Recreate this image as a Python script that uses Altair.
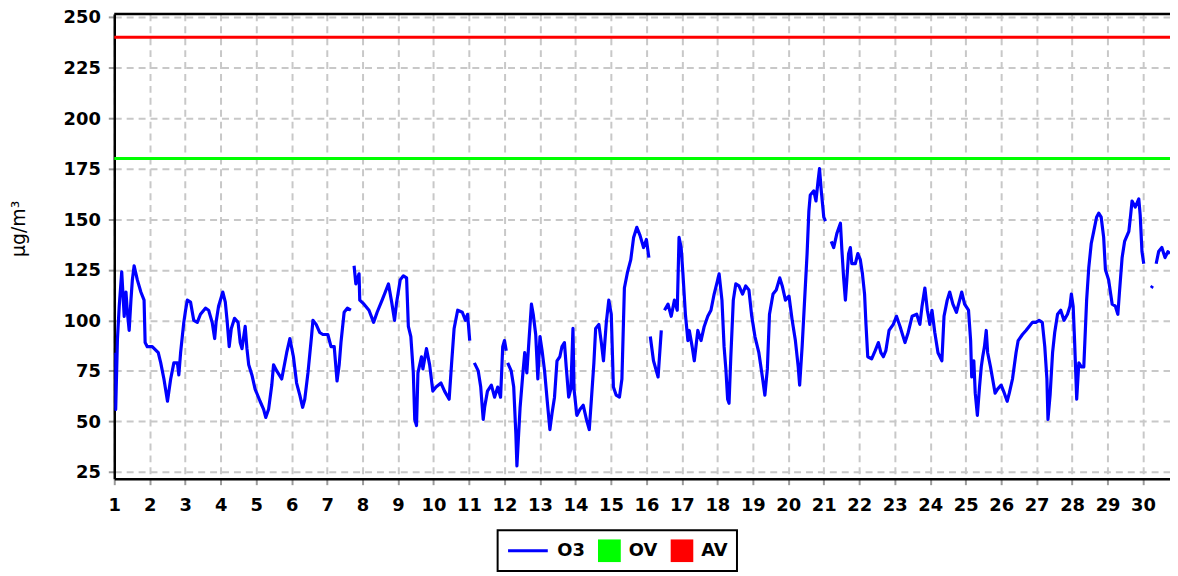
import altair as alt
import pandas as pd

# ---- data; None marks a gap in the series ----
o3_day = [
    1.00, 1.04, 1.09, 1.14, 1.21, 1.28, 1.33, 1.37, 1.42, 1.47, 1.51, 1.56, 1.65, 1.75, 1.84, 1.87, 1.93,
    2.07, 2.24, 2.31, 2.40, 2.50, 2.59, 2.68, 2.78, 2.82, 2.87, 2.96, 3.01, 3.06, 3.15, 3.24, 3.34, 3.43,
    3.57, 3.66, 3.76, 3.83, 3.87, 3.94, 4.06, 4.13, 4.18, 4.24, 4.30, 4.39, 4.49, 4.55, 4.60, 4.69, 4.74,
    4.79, 4.88, 4.97, 5.11, 5.21, 5.27, 5.35, 5.44, 5.49, 5.58, 5.72, 5.86, 5.95, 6.05, 6.14, 6.23, 6.31,
    6.37, 6.46, 6.56, 6.60, 6.69, 6.79, 6.88, 7.02, 7.11, 7.20, 7.28, 7.34, 7.39, 7.48, 7.57, 7.67,
    None,
    7.76, 7.81, 7.90, 7.92, 8.04, 8.18, 8.31, 8.41, 8.55, 8.64, 8.73, 8.82, 8.90, 8.96, 9.06, 9.15, 9.24,
    9.29, 9.36, 9.43, 9.47, 9.52, 9.56, 9.66, 9.70, 9.80, 9.89, 9.98, 10.07, 10.21, 10.31, 10.44, 10.51,
    10.58, 10.68, 10.81, 10.90, 10.96, 11.02,
    None,
    11.15, 11.26, 11.33, 11.40, 11.44, 11.52, 11.63, 11.72, 11.81, 11.89, 11.95, 12.00, 12.05,
    None,
    12.09, 12.19, 12.26, 12.32, 12.35, 12.39, 12.44, 12.51, 12.57, 12.63, 12.69, 12.76, 12.81, 12.88,
    12.94, 13.00, 13.06, 13.13, 13.20, 13.28, 13.34, 13.41, 13.48, 13.56, 13.62, 13.69, 13.74, 13.81,
    13.87, 13.93, 13.96, 14.04, 14.13, 14.22, 14.31, 14.39, 14.45, 14.52, 14.57, 14.66, 14.73, 14.79,
    14.87, 14.94, 15.01, 15.07, 15.15, 15.24, 15.31, 15.38, 15.47, 15.56, 15.64, 15.73, 15.82, 15.92,
    16.00, 16.07,
    None,
    16.11, 16.20, 16.33, 16.42,
    None,
    16.51, 16.61, 16.70, 16.79, 16.87, 16.92, 16.98, 17.03, 17.10, 17.17, 17.21, 17.29, 17.35, 17.45,
    17.54, 17.63, 17.73, 17.82, 17.91, 18.01, 18.05, 18.13, 18.19, 18.24, 18.29, 18.33, 18.38, 18.45,
    18.52, 18.61, 18.71, 18.80, 18.89, 18.97, 19.06, 19.17, 19.27, 19.34, 19.41, 19.47, 19.57, 19.66,
    19.76, 19.83, 19.92, 20.02, 20.11, 20.20, 20.28, 20.32, 20.39, 20.46, 20.53, 20.58, 20.62, 20.72,
    20.78, 20.84, 20.88, 20.93, 21.00, 21.05,
    None,
    21.21, 21.28, 21.37, 21.47, 21.51, 21.56, 21.61, 21.65, 21.70, 21.75, 21.79, 21.89, 21.96, 22.03,
    22.09, 22.15, 22.19, 22.24, 22.35, 22.45, 22.54, 22.61, 22.68, 22.75, 22.84, 22.96, 23.05, 23.15,
    23.29, 23.38, 23.49, 23.62, 23.71, 23.77, 23.85, 23.92, 23.99, 24.05, 24.13, 24.22, 24.33, 24.39,
    24.48, 24.55, 24.64, 24.74, 24.83, 24.89, 24.97, 25.08, 25.14, 25.17, 25.23, 25.27, 25.33, 25.39,
    25.44, 25.48, 25.53, 25.58, 25.62, 25.70, 25.76, 25.83, 25.90, 26.00, 26.09, 26.17, 26.23, 26.32,
    26.42, 26.48, 26.60, 26.70, 26.79, 26.88, 26.98, 27.07, 27.16, 27.23, 27.29, 27.32, 27.38, 27.45,
    27.51, 27.59, 27.68, 27.77, 27.87, 27.94, 27.98, 28.03, 28.07, 28.13, 28.19, 28.26, 28.33, 28.41,
    28.47, 28.54, 28.61, 28.69, 28.75, 28.82, 28.89, 28.94, 29.03, 29.13, 29.22, 29.29, 29.34, 29.41,
    29.48, 29.60, 29.65, 29.69, 29.78, 29.88, 29.92, 29.97, 30.02,
    None,
    30.23, 30.27,
    None,
    30.37, 30.44, 30.53, 30.62, 30.70, 30.76,
]
o3_val = [
    84, 56, 91, 107, 124, 102, 114, 104, 95, 110, 120, 127, 120, 114, 110, 89, 87,
    87, 84, 79, 71, 60, 71, 79, 79, 73, 84, 99, 105, 110, 109, 100, 99, 103,
    106, 105, 99, 91, 99, 107, 114, 109, 100, 87, 96, 101, 99, 89, 86, 97, 86,
    78, 73, 66, 60, 56, 52, 56, 68, 78, 75, 71, 84, 91, 82, 69, 63, 57,
    61, 74, 92, 100, 98, 94, 93, 93, 87, 87, 70, 78, 89, 104, 106, 105,
    None,
    127, 118, 123, 110, 108, 105, 99, 104, 110, 114, 118, 109, 100, 109, 120, 122, 121,
    97, 92, 74, 51, 48, 74, 82, 76, 86, 78, 65, 67, 69, 65, 61, 79,
    96, 105, 104, 100, 103, 90,
    None,
    79, 75, 67, 51, 57, 65, 68, 62, 67, 62, 87, 90, 85,
    None,
    79, 75, 67, 44, 28, 41, 57, 72, 84, 74, 90, 108, 103, 93,
    71, 92, 85, 75, 61, 46, 54, 62, 80, 82, 87, 89, 77, 62,
    66, 96, 66, 53, 56, 58, 51, 46, 61, 79, 96, 98, 89, 80,
    99, 110, 103, 67, 63, 62, 71, 116, 124, 130, 141, 146, 142, 136,
    140, 131,
    None,
    92, 80, 72, 95,
    None,
    105, 108, 102, 110, 105, 141, 136, 123, 103, 90, 95, 87, 80, 95,
    90, 97, 102, 105, 113, 120, 123, 110, 87, 76, 61, 59, 82, 110,
    118, 117, 113, 117, 115, 102, 92, 84, 72, 63, 76, 103, 113, 115,
    121, 117, 110, 112, 100, 90, 77, 68, 87, 110, 133, 154, 162, 164,
    159, 169, 175, 164, 151, 149,
    None,
    139, 136, 143, 148, 135, 121, 110, 120, 133, 136, 128, 128, 133, 130,
    123, 113, 98, 82, 81, 85, 89, 84, 82, 85, 95, 98, 102, 97,
    89, 94, 102, 103, 98, 107, 116, 105, 98, 105, 94, 84, 80, 102,
    110, 114, 108, 104, 110, 114, 108, 105, 90, 72, 80, 64, 53, 67,
    77, 82, 87, 95, 84, 77, 71, 64, 66, 68, 64, 60, 64, 71,
    84, 90, 93, 95, 97, 99, 99, 100, 99, 87, 71, 51, 63, 84,
    94, 103, 105, 100, 103, 107, 113, 107, 90, 61, 79, 77, 77, 110,
    126, 138, 144, 151, 153, 151, 141, 125, 120, 108, 107, 103, 115, 131,
    139, 144, 152, 159, 156, 160, 152, 134, 128,
    None,
    116, 117,
    None,
    128, 134, 136, 131, 134, 133,
]
limit_names = ["OV", "AV"]
limit_values = [180, 240]
series_names = ["O3", "OV", "AV"]
series_colors = ["#0000ff", "#00ff00", "#ff0000"]
x_ticks = list(range(1, 31))
y_ticks = list(range(25, 251, 25))
y_title = "µg/m³"
x_domain = [1, 30.76]
y_domain = [21.7, 251.5]

# ---- build tables ----
rows = []
seg = 0
for d, v in zip(o3_day, o3_val):
    if d is None or v is None:
        seg += 1
        continue
    rows.append({"day": d, "value": v, "seg": seg, "series": "O3"})
o3 = pd.DataFrame(rows)
limits = pd.DataFrame({"series": limit_names, "value": limit_values})
frame = pd.DataFrame({"k": [0]})

W, H = 1063, 468
FONT = "DejaVu Sans"

x_scale = alt.Scale(domain=x_domain, nice=False, zero=False)
y_scale = alt.Scale(domain=y_domain, nice=False, zero=False)
color_scale = alt.Scale(domain=series_names, range=series_colors)

axis_common = dict(
    labelFont=FONT, labelFontSize=18, labelFontWeight="bold", labelColor="black",
    domainColor="black", domainWidth=2.5,
    tickColor="#9a9a9a", tickWidth=2, tickSize=6,
    grid=True, gridColor="#c8c8c8", gridDash=[7, 5], gridWidth=2,
    labelOverlap=False, labelFlush=False,
)
x_axis = alt.Axis(values=x_ticks, format="d", title=None, labelPadding=12, **axis_common)
y_axis = alt.Axis(
    values=y_ticks, format="d", title=y_title, labelPadding=8, labelOffset=1,
    titleFont=FONT, titleFontSize=19, titleFontWeight="normal", titleColor="black",
    titleAngle=270, titleX=-96, titleY=216, titleAlign="center", titleBaseline="middle",
    **axis_common,
)

# the legend entry datum is the raw value when sizing, an entry object when drawing
is_o3 = "(datum === 'O3' || datum.value === 'O3')"
legend = alt.Legend(
    title=None, orient="none", legendX=386, legendY=520, direction="horizontal",
    padding=9, clipHeight=23, labelOffset=8, columnPadding=13,
    labelFont=FONT, labelFontSize=18, labelFontWeight="bold", labelColor="black", labelLimit=200,
    strokeColor="black", fillColor="white",
    symbolType={"expr": f"({is_o3} ? 'stroke' : 'square')"},
    symbolSize={"expr": f"({is_o3} ? 1600 : 529)"},
    symbolStrokeWidth={"expr": f"({is_o3} ? 3 : 0)"},
    symbolFillColor={"expr": f"({is_o3} ? 'transparent' : scale('color', datum.value))"},
    symbolStrokeColor={"expr": "scale('color', datum.value)"},
    symbolOpacity=1,
)

rules = alt.Chart(limits).mark_rule(strokeWidth=3).encode(
    y=alt.Y("value:Q", scale=y_scale, axis=y_axis),
    color=alt.Color("series:N", scale=color_scale, legend=legend),
)
line = alt.Chart(o3).mark_line(strokeWidth=3.2, strokeJoin="round", clip=True).encode(
    x=alt.X("day:Q", scale=x_scale, axis=x_axis),
    y=alt.Y("value:Q", scale=y_scale, axis=y_axis),
    color=alt.Color("series:N", scale=color_scale, legend=legend),
    detail="seg:N",
)
top = alt.Chart(frame).mark_rule(color="black", strokeWidth=2.5).encode(
    x=alt.value(0), x2=alt.value(W), y=alt.value(0)
)

chart = (
    alt.layer(rules, line, top)
    .properties(
        width=W, height=H,
        autosize=alt.AutoSizeParams(type="none"),
        padding={"left": 107, "top": 4, "right": 0, "bottom": 96},
        background="white",
    )
    .configure_view(strokeWidth=0)
    .configure_legend(strokeWidth=2)
)

chart.save("out.html", embed_options={"renderer": "svg", "actions": False})
